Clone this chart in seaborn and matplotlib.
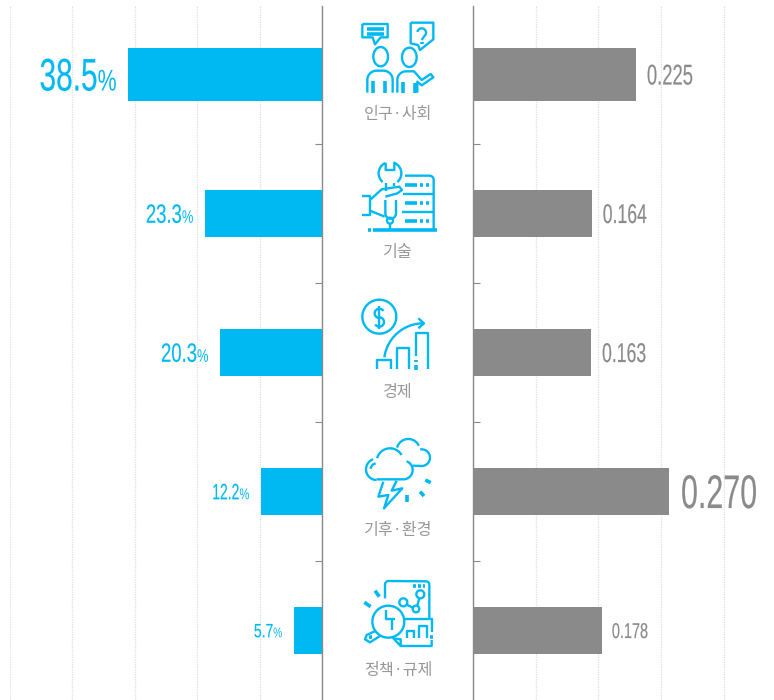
import numpy as np
import pandas as pd
import matplotlib
matplotlib.use('Agg')
import matplotlib.pyplot as plt
import matplotlib.patheffects as pe
from matplotlib.transforms import Affine2D
import seaborn as sns

# data
categories = ['인구·사회', '기술', '경제', '기후·환경', '정책·규제']
share_pct = [38.5, 23.3, 20.3, 12.2, 5.7]
index_val = [0.225, 0.164, 0.163, 0.270, 0.178]

BLUE = '#00b9f2'
GRAY = '#8a8a8a'
W, H = 774, 700


class Tall(pe.AbstractPathEffect):
    """Stretch glyphs upward from the baseline, the fonts here have no condensed cut"""
    def __init__(self, sy, stroke=0.0):
        super().__init__()
        self.sy, self.stroke = sy, stroke

    def draw_path(self, renderer, gc, tpath, affine, rgbFace=None):
        gc0 = renderer.new_gc()
        gc0.copy_properties(gc)
        gc0.set_linewidth(self.stroke)
        if self.stroke:
            gc0.set_foreground(rgbFace)
        renderer.draw_path(gc0, tpath, Affine2D().scale(1, self.sy) + affine, rgbFace)
        gc0.restore()


def px_axes(fig, x0, x1, y0, y1):
    return fig.add_axes([x0 / W, 1 - y1 / H, (x1 - x0) / W, (y1 - y0) / H])


def bars(ax, values, color):
    df = pd.DataFrame({'cat': categories, 'val': values})
    sns.barplot(data=df, x='val', y='cat', orient='h', color=color, saturation=1,
                width=0.335, ax=ax, zorder=3, linewidth=0, edgecolor='none')
    # the top row is drawn a bit thicker
    first = ax.patches[0]
    first.set_y(-0.19)
    first.set_height(0.38)
    ax.set_ylim(4.5, -0.493)
    ax.set_yticks([0.5, 1.5, 2.5, 3.5])
    ax.set_xlabel('')
    ax.set_ylabel('')
    ax.grid(axis='x', linestyle=(0, (1, 1)), color='#dedede', linewidth=0.9, zorder=0)
    ax.grid(axis='y', visible=False)
    ax.set_axisbelow(True)
    for s in ax.spines.values():
        s.set_visible(False)


sns.set_theme(style='white')
plt.rcParams['font.family'] = ['Liberation Sans', 'DejaVu Sans']

fig = plt.figure(figsize=(W / 100, H / 100), dpi=100)

# left panel
ax_l = px_axes(fig, 9.5, 322.5, 6, 700)
bars(ax_l, share_pct, BLUE)
ax_l.set_xlim(62, 0)
ax_l.set_xticks(np.arange(0, 62.1, 12.4))
ax_l.spines['right'].set_visible(True)
ax_l.spines['right'].set_color(GRAY)
ax_l.spines['right'].set_linewidth(1)
ax_l.spines['right'].set_zorder(4)
ax_l.yaxis.tick_right()
ax_l.tick_params(axis='y', direction='in', length=5.3, width=0.8, color=GRAY, labelright=False, right=True)
ax_l.tick_params(axis='x', length=0, labelbottom=False)

# right panel
ax_r = px_axes(fig, 473, 774, 6, 700)
bars(ax_r, index_val, GRAY)
ax_r.set_xlim(0, 0.4157)
ax_r.set_xticks(np.arange(0, 0.36, 0.0866))
ax_r.spines['left'].set_visible(True)
ax_r.spines['left'].set_color(GRAY)
ax_r.spines['left'].set_linewidth(1)
ax_r.tick_params(axis='y', direction='in', length=5.3, width=0.8, color=GRAY, labelleft=False, left=True)
ax_r.tick_params(axis='x', length=0, labelbottom=False)

# value labels: font size sets the width, digit height in px comes from the stretch
num_pt_l = [21.5, 13.3, 13.3, 10, 10]
num_h_l = [32, 18.5, 18.5, 15.5, 13.5]
pct_pt_l = [15.4, 9.3, 9.3, 8.1, 7.3]
num_pt_r = [13.25, 12.7, 12.7, 21.9, 10.4]
num_h_r = [20, 19, 19, 33, 15]
num_gap_r = [11, 11, 11, 12.5, 10]


def stretch(pt, h):
    return h / (0.7 * pt * 100 / 72)


for i, v in enumerate(share_pct):
    h = num_h_l[i]
    join = -11.5 - pct_pt_l[i] * 1.235
    base = -h / 2
    ax_l.annotate(f'{v:.1f}', (v, i), xytext=(join, base), textcoords='offset pixels',
                  ha='right', va='baseline', fontsize=num_pt_l[i], color=BLUE,
                  path_effects=[Tall(stretch(num_pt_l[i], h), 0.12)])
    ax_l.annotate('%', (v, i), xytext=(join, base), textcoords='offset pixels',
                  ha='left', va='baseline', fontsize=pct_pt_l[i], color=BLUE,
                  path_effects=[Tall(1.4)])
for i, v in enumerate(index_val):
    h = num_h_r[i]
    ax_r.annotate(f'{v:.3f}', (v, i), xytext=(num_gap_r[i], -h / 2), textcoords='offset pixels',
                  ha='left', va='baseline', fontsize=num_pt_r[i], color=GRAY,
                  path_effects=[Tall(stretch(num_pt_r[i], h), 0.12)])

# overlay in pixel space for the icons and the centre labels
ov = fig.add_axes([0, 0, 1, 1], zorder=5)
ov.set_xlim(0, W)
ov.set_ylim(H, 0)
ov.axis('off')
ov.patch.set_alpha(0)

label_y = [114, 253, 392, 530, 670]
for name, y in zip(categories, label_y):
    ov.text(398, y, name, ha='center', va='center', fontsize=11.6, color='#989898',
            family=['Noto Sans CJK KR', 'DejaVu Sans'])


def arc(cx, cy, r, a0, a1, ry=None):
    t = np.radians(np.linspace(a0, a1, 40))
    ry = r if ry is None else ry
    return list(zip(cx + r * np.cos(t), cy - ry * np.sin(t)))


def icon(ox, oy, shapes, thick=()):
    # shapes are in 3x zoom units relative to (ox, oy)
    for s in shapes:
        a = np.array(s)
        ov.plot(ox + a[:, 0] / 3, oy + a[:, 1] / 3, color=BLUE, lw=1.7,
                solid_capstyle='butt', solid_joinstyle='round')
    for s in thick:
        a = np.array(s)
        ov.plot(ox + a[:, 0] / 3, oy + a[:, 1] / 3, color=BLUE, lw=2.6, solid_capstyle='butt')


# people talking
icon(340, 0, [
    [(67, 72), (143, 72), (143, 112), (122, 112), (105, 133), (98, 112), (67, 112), (67, 72)],
    [(212, 68), (280, 68), (280, 118), (240, 150), (234, 135), (212, 130), (212, 68)],
    arc(122, 170, 22, 0, 360, 29),
    arc(208, 172, 22, 0, 360, 29),
    [(82, 278), (82, 240)] + arc(110, 240, 28, 180, 90) + arc(130, 240, 28, 90, 0) + [(158, 278)],
    [(172, 278), (172, 240)] + arc(198, 240, 26, 180, 90) + [(222, 214), (245, 240), (272, 222), (280, 232), (245, 256), (232, 245), (232, 278)],
    arc(245, 98, 13, 170, -50) + [(245, 120)],
], thick=[
    [(80, 88), (133, 88)], [(80, 103), (133, 103)],
    [(100, 242), (100, 278)], [(136, 242), (136, 278)],
    [(190, 245), (190, 278)], [(225, 250), (225, 278)],
    [(245, 125), (245, 132)],
])

# wrench and server
icon(340, 0, [
    [(137, 488), (137, 510), (163, 510), (163, 488)] + arc(150, 520, 34, 65, -50),
    arc(150, 520, 34, 115, 230),
    [(137, 548), (137, 572)], [(163, 548), (163, 558)],
    [(195, 527), (268, 527)] + arc(268, 540, 13, 90, 0) + [(281, 690)],
    [(190, 582), (281, 582)], [(185, 637), (281, 637)],
    [(65, 588), (90, 588), (90, 645), (65, 645)],
    [(90, 600), (125, 568), (178, 560), (186, 570), (172, 580), (136, 590)],
    [(90, 632), (134, 650)],
    [(136, 600), (136, 640)] + arc(152, 640, 16, 180, 360) + [(168, 600)],
    arc(150, 662, 9, 0, 360),
    [(150, 671), (150, 690)],
], thick=[
    [(85, 691), (93, 691)], [(100, 691), (290, 691)],
    [(195, 556), (232, 556)], [(240, 556), (248, 556)], [(258, 556), (266, 556)],
    [(195, 610), (232, 610)], [(240, 610), (248, 610)], [(258, 610), (266, 610)],
    [(195, 664), (232, 664)], [(240, 664), (248, 664)], [(258, 664), (266, 664)],
])

# coin and growth bars
icon(340, 280, [
    arc(118, 110, 51, 0, 360),
    arc(118, 100, 14, 30, 270) + arc(118, 126, 14, 90, -150),
    [(118, 78), (118, 146)],
    arc(250, 248, 118, 172, 90),
    [(235, 115), (252, 130), (235, 145)],
    [(112, 268), (112, 240), (152, 240), (152, 268)],
    [(170, 268), (170, 203), (208, 203), (208, 268)],
    [(227, 228), (227, 160), (265, 160), (265, 268)],
], thick=[[(227, 240), (227, 246)], [(227, 256), (227, 270)]])

# storm clouds
icon(340, 280, [
    [(110, 598), (190, 598)] + arc(190, 570, 28, -90, 70),
    arc(150, 545, 40, 30, 165),
    arc(110, 568, 32, 110, 270),
    arc(110, 568, 18, 100, 175),
    arc(205, 512, 35, 165, 25),
    arc(245, 533, 25, 100, -90) + [(218, 557)],
    [(130, 605), (115, 650), (145, 645), (132, 685), (187, 625), (155, 632), (170, 602)],
], thick=[[(202, 645), (202, 665)], [(240, 635), (252, 648)], [(256, 600), (272, 608)]])

# magnifier over charts
icon(340, 560, [
    [(135, 115), (135, 75)] + arc(146, 74, 11, 180, 90) + arc(258, 74, 10, 90, 0) + [(268, 175)],
    arc(145, 185, 48, 0, 360),
    [(108, 212), (80, 225), (75, 238), (90, 247), (120, 228)],
    [(137, 150), (137, 178), (165, 178)], [(155, 210), (155, 180)],
    arc(190, 127, 12, 0, 360), arc(228, 147, 10, 0, 360), arc(241, 103, 12, 0, 360),
    [(200, 134), (219, 143)], [(232, 137), (238, 114)],
    [(195, 178), (275, 178), (275, 215)],
    [(275, 240), (275, 258), (182, 258), (160, 235), (182, 238), (182, 258)],
    [(200, 235), (200, 212), (222, 212), (222, 235)],
    [(237, 235), (237, 198), (262, 198), (262, 235)],
], thick=[
    [(220, 78), (228, 78)], [(235, 78), (243, 78)], [(248, 78), (256, 78)],
    [(105, 92), (118, 110)], [(73, 127), (92, 140)],
    [(270, 230), (279, 230)], [(88, 232), (95, 232)],
])

fig.savefig('out.png', dpi=100)
